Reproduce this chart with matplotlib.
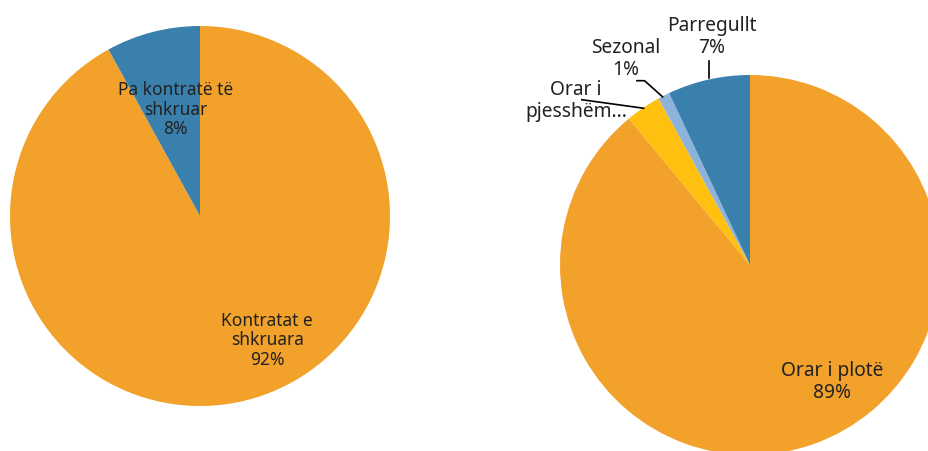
import numpy as np
import matplotlib.pyplot as plt

plt.rcParams['font.family'] = ['Noto Sans', 'DejaVu Sans']

# dati
contract_labels = ["Kontratat e\nshkruara", "Pa kontratë të\nshkruar"]
contract_vals = [92, 8]
contract_colors = ["#F2A12B", "#3A80AD"]

time_labels = ["Orar i plotë", "Orar i\npjesshëm...", "Sezonal", "Parregullt"]
time_vals = [89, 3, 1, 7]
time_colors = ["#F2A12B", "#FFC010", "#8DB3DA", "#3A80AD"]

fig = plt.figure(figsize=(9.29, 4.52), dpi=100)
W, H = 929, 452

def px_axes(x0, y0, size):
    # y0 = top edge in pixels
    return fig.add_axes([x0 / W, (H - y0 - size) / H, size / W, size / H])

fs1 = 12.5
fs2 = 13.8
tc = '#222222'
ls = 1.12

# pie sinistra
ax1 = px_axes(10, 27, 380)
ax1.pie(contract_vals, colors=contract_colors, startangle=90, counterclock=False,
        radius=1, wedgeprops=dict(linewidth=0))
ax1.set_xlim(-1, 1)
ax1.set_ylim(-1, 1)
ax1.axis('off')
pos1 = [(0.353, -0.65), (-0.13, 0.565)]
for lab, v, p in zip(contract_labels, contract_vals, pos1):
    ax1.text(p[0], p[1], f"{lab}\n{v}%", ha='center', va='center', fontsize=fs1,
             color=tc, linespacing=ls)

# pie destra
ax2 = px_axes(560, 76, 380)
ax2.pie(time_vals, colors=time_colors, startangle=90, counterclock=False,
        radius=1, wedgeprops=dict(linewidth=0))
ax2.set_xlim(-1, 1)
ax2.set_ylim(-1, 1)
ax2.axis('off')
for a in [ax1, ax2]:
    for p in a.patches:
        p.set_clip_on(False)

ax2.text(0.43, -0.61, f"{time_labels[0]}\n{time_vals[0]}%", ha='center', va='center',
         fontsize=fs2, color=tc, linespacing=ls)

# etichette esterne con linee guida
ax2.text(-0.915, 0.87, time_labels[1], ha='center', va='center', fontsize=fs2,
         color=tc, linespacing=ls)
ax2.plot([-0.885, -0.56], [0.87, 0.825], color='black', lw=1.2, clip_on=False)

ax2.text(-0.655, 1.09, f"{time_labels[2]}\n{time_vals[2]}%", ha='center', va='center',
         fontsize=fs2, color=tc, linespacing=ls)
ax2.plot([-0.595, -0.555, -0.46], [0.97, 0.97, 0.885], color='black', lw=1.2, clip_on=False)

ax2.text(-0.2, 1.205, f"{time_labels[3]}\n{time_vals[3]}%", ha='center', va='center',
         fontsize=fs2, color=tc, linespacing=ls)
ax2.plot([-0.215, -0.215], [1.075, 0.985], color='black', lw=1.2, clip_on=False)

fig.savefig("out.png", dpi=100)
